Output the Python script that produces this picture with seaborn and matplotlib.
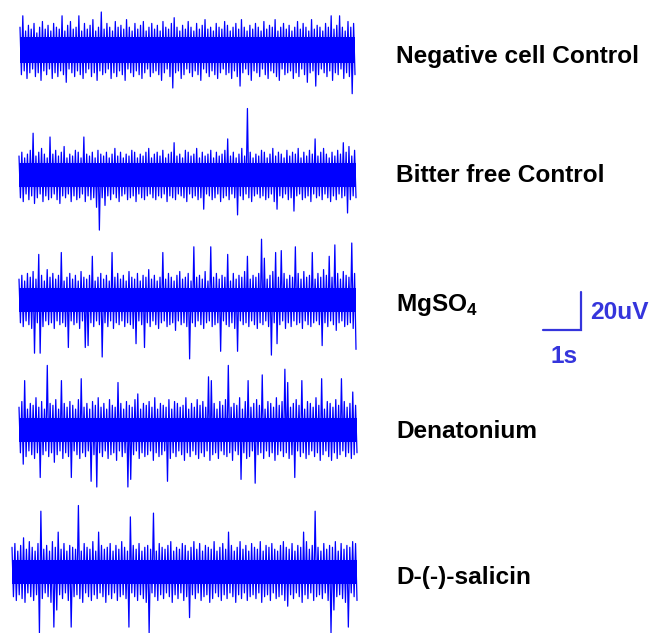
import matplotlib
matplotlib.use('Agg')
import matplotlib.pyplot as plt
import numpy as np
import pandas as pd
import seaborn as sns

# Trace names, top to bottom
names = ['Negative cell Control', 'Bitter free Control', 'MgSO$_4$',
         'Denatonium', 'D-(-)-salicin']

neg_up = [12, 18, 10, 13, 11, 14, 9, 12, 15, 11, 13, 10,
          14, 12, 11, 18, 10, 13, 15, 11, 12, 18, 10, 14,
          11, 13, 16, 10, 12, 20, 11, 14, 12, 10, 15, 12,
          13, 11, 16, 12, 10, 14, 11, 13, 15, 10, 12, 14,
          11, 13, 10, 15, 12, 11, 14, 17, 12, 10, 13, 11,
          15, 12, 10, 14, 11, 13, 16, 11, 12, 10, 14, 12,
          11, 15, 13, 10, 12, 14, 11, 16, 12, 10, 13, 11,
          14, 12, 10, 15, 11, 13, 12, 16, 10, 12, 14, 11,
          13, 10, 12, 15, 11, 14, 12, 10, 16, 11, 13, 12,
          10, 14, 12, 18, 11, 13, 18, 12, 10, 15, 12, 14]
neg_dn = [-13, -11, -15, -12, -10, -14, -12, -16, -11, -13, -10, -15,
          -12, -14, -11, -13, -17, -10, -12, -14, -11, -13, -15, -12,
          -10, -14, -12, -16, -11, -13, -12, -10, -15, -12, -14, -11,
          -13, -16, -10, -12, -14, -11, -13, -15, -12, -10, -14, -12,
          -11, -13, -16, -12, -10, -14, -20, -12, -11, -15, -13, -10,
          -12, -14, -11, -13, -16, -10, -12, -14, -11, -13, -15, -12,
          -10, -13, -12, -15, -11, -14, -19, -12, -10, -13, -16, -11,
          -12, -14, -10, -13, -15, -11, -12, -14, -16, -10, -13, -12,
          -11, -15, -12, -14, -10, -13, -17, -12, -11, -19, -13, -10,
          -12, -14, -11, -16, -12, -13, -10, -15, -12, -14, -23, -13]

bit_up = [10, 12, 9, 11, 13, 22, 10, 12, 14, 11, 9, 20,
          11, 13, 10, 12, 15, 9, 11, 10, 13, 12, 9, 20,
          11, 10, 12, 9, 13, 11, 10, 12, 9, 11, 14, 10,
          12, 9, 11, 10, 13, 12, 9, 11, 10, 12, 14, 9,
          11, 12, 10, 13, 9, 11, 12, 17, 10, 11, 9, 13,
          12, 10, 11, 14, 9, 12, 10, 11, 13, 9, 12, 10,
          11, 13, 19, 10, 12, 9, 11, 14, 10, 35, 12, 9,
          11, 10, 13, 12, 9, 11, 14, 10, 12, 11, 9, 13,
          10, 12, 11, 14, 9, 12, 10, 13, 11, 19, 10, 12,
          14, 11, 9, 12, 10, 13, 11, 17, 12, 15, 10, 13]
bit_dn = [-12, -14, -10, -13, -11, -15, -12, -10, -14, -11, -13, -12,
          -10, -13, -15, -11, -12, -10, -14, -11, -13, -12, -10, -14,
          -11, -13, -12, -17, -29, -12, -16, -11, -13, -10, -12, -14,
          -11, -10, -13, -12, -11, -14, -10, -12, -13, -11, -10, -12,
          -13, -11, -12, -10, -14, -11, -12, -13, -10, -11, -12, -14,
          -10, -12, -11, -13, -12, -18, -10, -11, -13, -12, -10, -14,
          -12, -11, -13, -10, -12, -21, -11, -13, -10, -12, -14, -11,
          -10, -12, -11, -13, -12, -10, -14, -18, -11, -12, -10, -13,
          -12, -19, -11, -10, -13, -12, -11, -14, -10, -12, -11, -13,
          -10, -12, -14, -11, -13, -10, -12, -11, -20, -13, -11, -12]

mg_up = [11, 13, 10, 14, 12, 15, 11, 24, 13, 10, 16, 12,
         14, 11, 13, 25, 10, 12, 14, 11, 13, 10, 15, 12,
         11, 13, 23, 10, 12, 14, 11, 13, 10, 25, 12, 14,
         11, 13, 10, 15, 12, 11, 14, 10, 13, 12, 16, 11,
         13, 10, 12, 25, 11, 14, 12, 10, 13, 15, 11, 12,
         14, 10, 28, 12, 13, 11, 15, 10, 28, 12, 14, 11,
         13, 12, 24, 10, 14, 11, 13, 12, 15, 23, 11, 13,
         12, 14, 32, 22, 11, 13, 15, 25, 12, 26, 14, 11,
         13, 12, 28, 14, 11, 15, 12, 13, 25, 11, 14, 12,
         16, 13, 23, 12, 29, 14, 11, 15, 13, 12, 30, 14]
mg_dn = [-12, -14, -11, -13, -15, -28, -12, -28, -14, -11, -13, -12,
         -15, -11, -13, -12, -14, -25, -11, -13, -12, -15, -11, -25,
         -24, -12, -14, -11, -13, -30, -12, -14, -11, -15, -12, -13,
         -11, -14, -12, -13, -15, -23, -11, -13, -25, -12, -14, -11,
         -13, -15, -12, -11, -14, -13, -12, -16, -11, -13, -12, -14,
         -31, -12, -14, -11, -13, -15, -12, -11, -14, -13, -12, -27,
         -11, -13, -14, -12, -15, -27, -11, -13, -12, -14, -11, -13,
         -15, -12, -13, -11, -14, -29, -12, -23, -13, -11, -15, -12,
         -14, -11, -13, -12, -15, -11, -13, -14, -12, -11, -13, -24,
         -12, -14, -11, -13, -16, -12, -11, -14, -13, -12, -15, -26]

den_up = [12, 15, 26, 11, 14, 13, 17, 12, 15, 11, 34, 14,
          13, 16, 11, 26, 14, 12, 15, 13, 11, 16, 27, 12,
          14, 11, 15, 13, 17, 12, 14, 11, 16, 13, 12, 25,
          14, 11, 15, 13, 12, 16, 19, 11, 14, 13, 15, 12,
          17, 11, 14, 13, 12, 16, 11, 15, 14, 12, 13, 17,
          11, 14, 12, 16, 13, 15, 12, 28, 26, 14, 11, 15,
          13, 16, 34, 12, 14, 13, 17, 11, 15, 26, 12, 14,
          16, 13, 29, 11, 15, 14, 12, 17, 13, 15, 32, 25,
          12, 14, 16, 13, 26, 11, 15, 14, 12, 17, 13, 27,
          11, 15, 14, 12, 16, 13, 27, 15, 12, 14, 20, 13]
den_dn = [-12, -18, -14, -11, -13, -15, -12, -25, -13, -11, -14, -12,
          -17, -13, -11, -15, -12, -14, -25, -11, -13, -15, -12, -14,
          -11, -27, -13, -30, -12, -14, -11, -15, -13, -12, -16, -11,
          -14, -12, -30, -26, -13, -11, -15, -12, -14, -13, -11, -16,
          -12, -14, -13, -11, -27, -15, -12, -14, -11, -13, -16, -12,
          -14, -11, -13, -15, -12, -14, -11, -16, -13, -12, -15, -11,
          -13, -14, -12, -16, -11, -13, -26, -12, -15, -14, -11, -28,
          -13, -12, -15, -11, -14, -12, -16, -13, -11, -14, -12, -15,
          -13, -25, -11, -14, -12, -15, -13, -11, -14, -12, -16, -13,
          -11, -14, -16, -12, -15, -13, -11, -14, -12, -15, -13, -12]

sal_up = [13, 15, 11, 14, 18, 12, 16, 13, 11, 15, 32, 12,
          14, 11, 16, 13, 21, 12, 15, 11, 14, 13, 12, 35,
          11, 15, 13, 12, 16, 11, 21, 14, 12, 13, 15, 11,
          14, 12, 16, 13, 11, 29, 14, 12, 15, 11, 13, 14,
          12, 31, 11, 15, 13, 12, 14, 16, 11, 13, 12, 15,
          14, 11, 13, 16, 12, 15, 11, 14, 13, 12, 16, 11,
          13, 15, 12, 21, 14, 11, 13, 16, 12, 14, 11, 15,
          13, 12, 16, 11, 14, 13, 15, 12, 11, 14, 16, 13,
          12, 15, 11, 14, 13, 21, 16, 12, 14, 32, 13, 11,
          15, 12, 14, 13, 16, 11, 15, 12, 14, 13, 16, 15]
sal_dn = [-13, -15, -12, -14, -16, -11, -13, -15, -12, -32, -14, -11,
          -13, -16, -29, -20, -12, -14, -11, -15, -29, -13, -12, -14,
          -16, -11, -13, -15, -12, -14, -11, -13, -16, -12, -14, -11,
          -15, -13, -12, -14, -29, -11, -13, -15, -12, -14, -16, -32,
          -11, -13, -15, -12, -14, -11, -13, -16, -12, -14, -11, -15,
          -13, -24, -12, -14, -11, -15, -13, -12, -16, -14, -11, -13,
          -15, -12, -14, -11, -13, -16, -12, -14, -11, -15, -13, -12,
          -14, -11, -16, -13, -12, -15, -11, -14, -13, -12, -15, -18,
          -12, -14, -11, -13, -16, -12, -14, -11, -15, -13, -12, -14,
          -11, -15, -32, -20, -13, -12, -14, -16, -29, -11, -13, -15]

# dense baseline noise band (+/- uV)
core = [7, 6.5, 6.5, 6.5, 6.5]

ups = [neg_up, bit_up, mg_up, den_up, sal_up]
dns = [neg_dn, bit_dn, mg_dn, den_dn, sal_dn]

# layout (pixels in the 651x633 image)
PX_S = 38.0    # pixels per second
PX_UV = 1.9    # pixels per uV
centers = [50, 175, 300, 430, 572]
starts = [20, 19, 19, 19, 12]
ends = [355, 356, 356, 357, 357]
label_base = [63, 181.5, 311, 437.5, 584]

trace_col = '#0000ff'
bar_col = '#3535dc'

sns.set_style('white')
plt.rcParams['font.family'] = ['Liberation Sans', 'DejaVu Sans']
plt.rcParams['mathtext.fontset'] = 'custom'
plt.rcParams['mathtext.rm'] = 'Liberation Sans:bold'

fig = plt.figure(figsize=(6.51, 6.33), dpi=100)
ax = fig.add_axes([0, 0, 1, 1])
ax.set_xlim(0, 651 / PX_S)
ax.set_ylim(-633 / PX_UV, 0)
ax.axis('off')

for i in range(len(names)):
    n = len(ups[i])
    sig = np.empty(2 * n)
    sig[0::2] = ups[i]
    sig[1::2] = dns[i]
    off = -centers[i] / PX_UV
    t = np.linspace(starts[i] / PX_S, ends[i] / PX_S, 2 * n)
    df = pd.DataFrame({'t': t, 'v': sig + off})
    ax.fill_between(t, off - core[i], off + core[i], color=trace_col, lw=0)
    sns.lineplot(data=df, x='t', y='v', ax=ax, color=trace_col, lw=0.9,
                 estimator=None, sort=False)
    ax.text(396 / PX_S, -label_base[i] / PX_UV, names[i], fontsize=17.6,
            fontweight='bold', ha='left', va='baseline', color='black')

# scale bar: 1 s x 20 uV
bx = 581 / PX_S
by = -330 / PX_UV
ax.plot([bx - 1, bx, bx], [by, by, by + 20], color=bar_col, lw=1.6,
        solid_joinstyle='miter')
ax.text(590 / PX_S, -319 / PX_UV, '20uV', fontsize=17.6, fontweight='bold',
        color=bar_col, ha='left', va='baseline')
ax.text(550 / PX_S, -363 / PX_UV, '1s', fontsize=17.6, fontweight='bold',
        color=bar_col, ha='left', va='baseline')

ax.set_xlabel('')
ax.set_ylabel('')
fig.savefig('out.png', dpi=100)
